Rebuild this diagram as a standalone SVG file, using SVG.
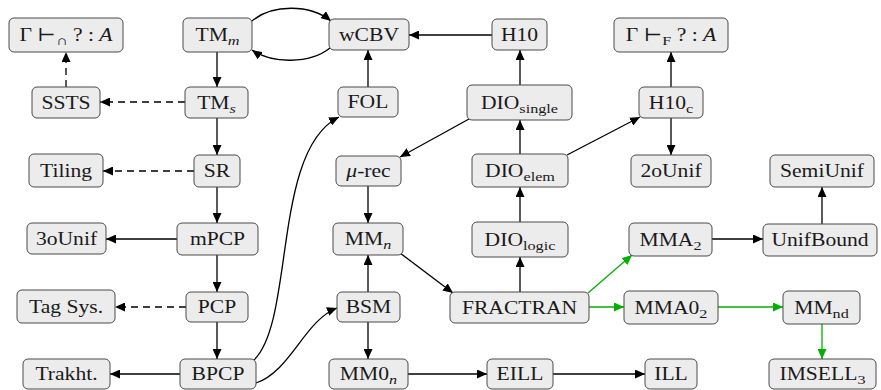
<svg xmlns="http://www.w3.org/2000/svg" width="881" height="390" viewBox="0 0 881 390">
<style>
.n rect{fill:#ececec;stroke:#4a4a4a;stroke-width:1}
.n text{font-family:"Liberation Serif","DejaVu Serif",serif;font-size:18px;fill:#1a1a1a;text-anchor:middle}
.sub{font-size:13.5px}
.it{font-style:italic}
.e path{fill:none;stroke:#000;stroke-width:1.3;marker-end:url(#ab)}
.e path.d{stroke-dasharray:7,5}
.e path.g{stroke:#00b000;marker-end:url(#ag)}
</style>
<defs>
<marker id="ab" markerUnits="userSpaceOnUse" markerWidth="11" markerHeight="9" refX="10" refY="4.5" orient="auto"><path d="M0,0 L10,4.5 L0,9 z" fill="#000"/></marker>
<marker id="ag" markerUnits="userSpaceOnUse" markerWidth="11" markerHeight="9" refX="10" refY="4.5" orient="auto"><path d="M0,0 L10,4.5 L0,9 z" fill="#00b000"/></marker>
</defs>
<g class="e" id="connectors">
<path d="M217,52 L217,87"/>
<path class="d" d="M185,102 L100,102"/>
<path class="d" d="M66,87 L66,52"/>
<path d="M217,118 L217,155"/>
<path class="d" d="M194,171 L103,171"/>
<path d="M217,187 L217,223"/>
<path d="M177,239 L106,239"/>
<path d="M217,255 L217,292"/>
<path class="d" d="M186,307 L115,307"/>
<path d="M217,322 L217,359"/>
<path d="M180,374 L110,374"/>
<path d="M254,360 C295,320 272,150 339,117"/>
<path d="M256,383 C290,372 305,320 337,308"/>
<path d="M252,21 C272,4 310,4 331,21"/>
<path d="M330,48 C310,64 272,64 252,50"/>
<path d="M492,35 L409,35"/>
<path d="M368,87 L368,50"/>
<path d="M520,85 L520,50"/>
<path d="M469,119 L400,157"/>
<path d="M520,154 L520,120"/>
<path d="M567,155 L640,117"/>
<path d="M671,87 L671,52"/>
<path d="M671,118 L671,155"/>
<path d="M520,222 L520,187"/>
<path d="M520,292 L520,257"/>
<path d="M368,186 L368,223"/>
<path d="M368,292 L368,255"/>
<path d="M400,253 L453,293"/>
<path d="M368,322 L368,359"/>
<path d="M408,374 L487,374"/>
<path d="M553,374 L645,374"/>
<path d="M712,239 L763,239"/>
<path d="M822,224 L822,187"/>
<path class="g" d="M588,293 L632,255"/>
<path class="g" d="M589,307 L624,307"/>
<path class="g" d="M718,307 L783,307"/>
<path class="g" d="M822,324 L822,359"/>
</g>
<g class="n" id="gcap"><rect x="9" y="18" width="114" height="34" rx="5"/><text transform="translate(66 35) scale(1.2 1)" y="6">Γ ⊢<tspan class="sub" dy="4">∩</tspan><tspan dy="-4"> ? : </tspan><tspan class="it">A</tspan></text></g>
<g class="n" id="tmm"><rect x="183" y="18" width="69" height="34" rx="5"/><text transform="translate(217.5 35) scale(1.2 1)" y="6">TM<tspan class="sub it" dy="4">m</tspan></text></g>
<g class="n" id="wcbv"><rect x="329" y="19" width="80" height="31" rx="5"/><text transform="translate(369 35) scale(1.2 1)" y="6">wCBV</text></g>
<g class="n" id="h10"><rect x="492" y="19" width="55" height="31" rx="5"/><text transform="translate(519.5 35) scale(1.2 1)" y="6">H10</text></g>
<g class="n" id="gf"><rect x="614" y="18" width="114" height="34" rx="5"/><text transform="translate(671 35) scale(1.2 1)" y="6">Γ ⊢<tspan class="sub" dy="4">F</tspan><tspan dy="-4"> ? : </tspan><tspan class="it">A</tspan></text></g>
<g class="n" id="ssts"><rect x="32" y="87" width="68" height="31" rx="5"/><text transform="translate(66 102.5) scale(1.2 1)" y="6">SSTS</text></g>
<g class="n" id="tms"><rect x="185" y="87" width="63" height="31" rx="5"/><text transform="translate(216.5 102.5) scale(1.2 1)" y="6">TM<tspan class="sub it" dy="4">s</tspan></text></g>
<g class="n" id="fol"><rect x="338" y="87" width="60" height="30" rx="5"/><text transform="translate(368 102) scale(1.2 1)" y="6">FOL</text></g>
<g class="n" id="dios"><rect x="467" y="85" width="105" height="35" rx="5"/><text transform="translate(519.5 102.5) scale(1.2 1)" y="6">DIO<tspan class="sub" dy="4">single</tspan></text></g>
<g class="n" id="h10c"><rect x="639" y="87" width="64" height="31" rx="5"/><text transform="translate(671 102.5) scale(1.2 1)" y="6">H10<tspan class="sub" dy="4">c</tspan></text></g>
<g class="n" id="tiling"><rect x="29" y="154" width="74" height="33" rx="5"/><text transform="translate(66 170.5) scale(1.2 1)" y="6">Tiling</text></g>
<g class="n" id="sr"><rect x="194" y="155" width="46" height="32" rx="5"/><text transform="translate(217 171) scale(1.2 1)" y="6">SR</text></g>
<g class="n" id="murec"><rect x="336" y="156" width="65" height="30" rx="5"/><text transform="translate(368.5 171) scale(1.2 1)" y="6"><tspan class="it">μ</tspan>-rec</text></g>
<g class="n" id="dioe"><rect x="472" y="154" width="96" height="33" rx="5"/><text transform="translate(520 170.5) scale(1.2 1)" y="6">DIO<tspan class="sub" dy="4">elem</tspan></text></g>
<g class="n" id="u2o"><rect x="631" y="155" width="80" height="32" rx="5"/><text transform="translate(671 171) scale(1.2 1)" y="6">2oUnif</text></g>
<g class="n" id="semi"><rect x="770" y="155" width="104" height="32" rx="5"/><text transform="translate(822 171) scale(1.2 1)" y="6">SemiUnif</text></g>
<g class="n" id="u3o"><rect x="27" y="223" width="79" height="31" rx="5"/><text transform="translate(66.5 238.5) scale(1.2 1)" y="6">3oUnif</text></g>
<g class="n" id="mpcp"><rect x="177" y="223" width="81" height="32" rx="5"/><text transform="translate(217.5 239) scale(1.2 1)" y="6">mPCP</text></g>
<g class="n" id="mmn"><rect x="333" y="223" width="70" height="32" rx="5"/><text transform="translate(368 239) scale(1.2 1)" y="6">MM<tspan class="sub it" dy="4">n</tspan></text></g>
<g class="n" id="diol"><rect x="472" y="222" width="96" height="35" rx="5"/><text transform="translate(520 239.5) scale(1.2 1)" y="6">DIO<tspan class="sub" dy="4">logic</tspan></text></g>
<g class="n" id="mma2"><rect x="629" y="223" width="83" height="33" rx="5"/><text transform="translate(670.5 239.5) scale(1.2 1)" y="6">MMA<tspan class="sub" dy="4">2</tspan></text></g>
<g class="n" id="ubound"><rect x="763" y="224" width="114" height="32" rx="5"/><text transform="translate(820 240) scale(1.2 1)" y="6">UnifBound</text></g>
<g class="n" id="tag"><rect x="17" y="290" width="98" height="33" rx="5"/><text transform="translate(66 306.5) scale(1.2 1)" y="6">Tag Sys.</text></g>
<g class="n" id="pcp"><rect x="186" y="292" width="62" height="30" rx="5"/><text transform="translate(217 307) scale(1.2 1)" y="6">PCP</text></g>
<g class="n" id="bsm"><rect x="337" y="292" width="63" height="30" rx="5"/><text transform="translate(368.5 307) scale(1.2 1)" y="6">BSM</text></g>
<g class="n" id="fractran"><rect x="450" y="292" width="139" height="31" rx="5"/><text transform="translate(519.5 307.5) scale(1.2 1)" y="6">FRACTRAN</text></g>
<g class="n" id="mma02"><rect x="624" y="291" width="94" height="33" rx="5"/><text transform="translate(671 307.5) scale(1.2 1)" y="6">MMA0<tspan class="sub" dy="4">2</tspan></text></g>
<g class="n" id="mmnd"><rect x="783" y="291" width="77" height="33" rx="5"/><text transform="translate(821.5 307.5) scale(1.2 1)" y="6">MM<tspan class="sub" dy="4">nd</tspan></text></g>
<g class="n" id="trakht"><rect x="23" y="359" width="87" height="30" rx="5"/><text transform="translate(66.5 374) scale(1.2 1)" y="6">Trakht.</text></g>
<g class="n" id="bpcp"><rect x="180" y="359" width="76" height="30" rx="5"/><text transform="translate(218 374) scale(1.2 1)" y="6">BPCP</text></g>
<g class="n" id="mm0n"><rect x="329" y="359" width="79" height="30" rx="5"/><text transform="translate(368.5 374) scale(1.2 1)" y="6">MM0<tspan class="sub it" dy="4">n</tspan></text></g>
<g class="n" id="eill"><rect x="487" y="359" width="66" height="30" rx="5"/><text transform="translate(520 374) scale(1.2 1)" y="6">EILL</text></g>
<g class="n" id="ill"><rect x="645" y="359" width="52" height="30" rx="5"/><text transform="translate(671 374) scale(1.2 1)" y="6">ILL</text></g>
<g class="n" id="imsell"><rect x="769" y="359" width="107" height="30" rx="5"/><text transform="translate(822.5 374) scale(1.2 1)" y="6">IMSELL<tspan class="sub" dy="4">3</tspan></text></g>
</svg>
